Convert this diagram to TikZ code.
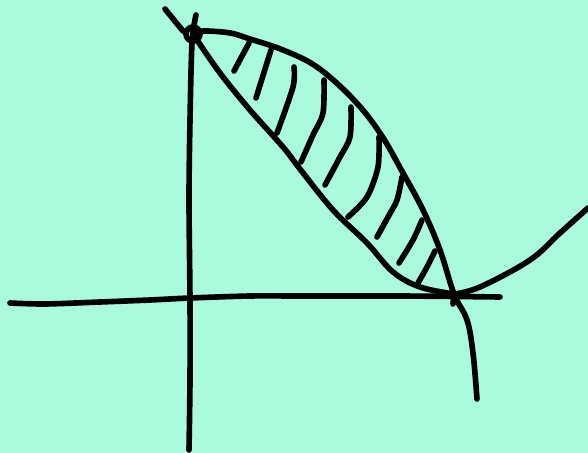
\documentclass[tikz,border=0pt]{standalone}
\usepackage{tikz}
\definecolor{mint}{HTML}{AAFADD}

\begin{document}
\begin{tikzpicture}[x=0.025cm,y=-0.025cm,
  pen/.style={line width=4pt, line cap=round, line join=round},
  hatch/.style={pen}]
\fill[mint] (0,0) rectangle (588,453);
\useasboundingbox (0,0) rectangle (588,453);

\coordinate (top) at (193,34);
\coordinate (root) at (454,294);

\draw[pen] plot[smooth, tension=0.5] coordinates {(10,303) (45,304) (100,302) (150,300) (190,298) (250,296) (300,296) (400,296) (500,297)};
\draw[pen] plot[smooth, tension=0.5] coordinates {(196,15) (192,43) (190,120) (189,200) (190,300) (190,380) (189,450)};
\draw[pen] (165,9) -- (183,31);
\draw[pen] (top) circle[radius=7];

\draw[pen] plot[smooth, tension=0.6] coordinates {(top) (203,31) (230,33) (250,39) (283,50) (317,67) (353,99) (380,133) (403,173) (423,210) (440,250) (root) (467,320) (473,353) (477,399)};
\draw[pen] plot[smooth, tension=0.6] coordinates {(top) (220,73) (250,110) (283,147) (300,169) (333,210) (367,243) (393,272) (420,287) (root)};
\draw[pen] plot[smooth, tension=0.6] coordinates {(root) (480,287) (530,260) (560,233) (588,208)};
\draw[pen] (root) -- (453,304);

\draw[hatch] (249,43) -- (234,71);
\draw[hatch] (271,50) -- (256,98);
\draw[hatch] plot[smooth] coordinates {(294,67) (293,87) (277,133)};
\draw[hatch] plot[smooth] coordinates {(324,80) (323,113) (313,135) (301,162)};
\draw[hatch] plot[smooth] coordinates {(351,107) (350,137) (340,157) (325,185)};
\draw[hatch] plot[smooth] coordinates {(379,137) (378,167) (367,197) (348,217)};
\draw[hatch] plot[smooth] coordinates {(402,177) (397,200) (388,217) (377,237)};
\draw[hatch] plot[smooth] coordinates {(422,220) (413,240) (399,263)};
\draw[hatch] plot[smooth] coordinates {(435,251) (427,267) (418,283)};
\end{tikzpicture}
\end{document}
